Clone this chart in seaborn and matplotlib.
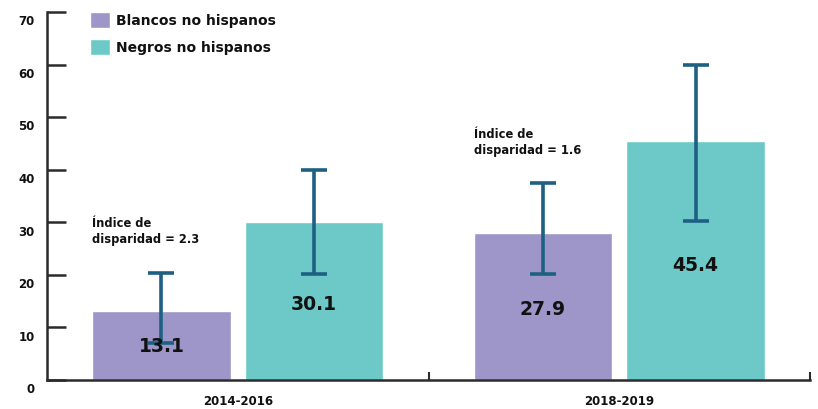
import numpy as np
import pandas as pd
import seaborn as sns
import matplotlib.pyplot as plt
from matplotlib.transforms import ScaledTranslation

# Data
periods = ["2014-2016", "2018-2019"]
groups = ["Blancos no hispanos", "Negros no hispanos"]
blancos = [13.1, 27.9]
negros = [30.1, 45.4]
blancos_low = [7.0, 20.2]
blancos_high = [20.4, 37.4]
negros_low = [20.2, 30.3]
negros_high = [39.9, 59.9]
disparity = ["2.3", "1.6"]

colors = ["#9e95c8", "#6dc9c7"]
err_color = "#1d6082"
axis_color = "#2b2b2b"


def main():
    sns.set_style("white")
    plt.rcParams["font.family"] = ["DejaVu Sans"]
    plt.rcParams["font.weight"] = "bold"

    df = pd.DataFrame({
        "periodo": periods * 2,
        "grupo": [groups[0]] * 2 + [groups[1]] * 2,
        "valor": blancos + negros,
        "low": blancos_low + negros_low,
        "high": blancos_high + negros_high,
    })

    fig = plt.figure(figsize=(8.18, 4.09), dpi=100)
    ax = fig.add_axes([47 / 818, 1 - 380 / 409, (810 - 47) / 818, (380 - 12) / 409])

    sns.barplot(data=df, x="periodo", y="valor", hue="grupo", palette=colors,
                width=0.8, gap=0.09, errorbar=None, saturation=1, ax=ax)

    # error bars and labels on each bar, positions taken from the patches
    bars = [p for p in ax.patches if p.get_height() > 0]
    for bar, (_, row) in zip(bars, df.iterrows()):
        xc = bar.get_x() + bar.get_width() / 2
        v = row["valor"]
        ax.errorbar(xc, v, yerr=[[v - row["low"]], [row["high"] - v]],
                    fmt="none", ecolor=err_color, elinewidth=2.6,
                    capsize=9.5, capthick=2.6, zorder=3)
        ax.text(xc, v * 0.48, f"{v:.1f}", ha="center", va="center",
                fontsize=13.5, fontweight="bold", color="#111111", zorder=4)

    # disparity notes above the white bars
    for i, d in enumerate(disparity):
        b = bars[i]
        ax.text(b.get_x(), df["high"][i] + 5.0, f"Índice de\ndisparidad = {d}",
                ha="left", va="bottom", fontsize=8.3, fontweight="bold",
                color="#111111", linespacing=1.35)

    ax.set_xlim(-0.5, 1.5)
    ax.set_ylim(0, 70)
    ax.set_yticks(range(0, 71, 10))
    ax.set_xlabel("")
    ax.set_ylabel("")

    for s in ["top", "right"]:
        ax.spines[s].set_visible(False)
    for s in ["left", "bottom"]:
        ax.spines[s].set_color(axis_color)
        ax.spines[s].set_linewidth(1.8)

    ax.tick_params(axis="y", direction="in", length=14, width=1.8,
                   color=axis_color, labelsize=8.5, pad=9, left=True,
                   labelcolor="#111111")
    ax.tick_params(axis="x", which="major", length=0, pad=11, labelsize=8.5,
                   labelcolor="#111111")
    ax.set_xticks([0.5, 1.5], minor=True)
    ax.tick_params(axis="x", which="minor", direction="in", length=6,
                   width=1.5, color=axis_color, bottom=True)
    for lab in ax.get_yticklabels() + ax.get_xticklabels():
        lab.set_fontweight("bold")
    for lab in ax.get_yticklabels():
        lab.set_transform(lab.get_transform() +
                          ScaledTranslation(0, -6 / 72, fig.dpi_scale_trans))

    leg = ax.legend(loc="upper left", bbox_to_anchor=(0.04, 1.034),
                    frameon=False, handlelength=1.45, handleheight=1.45,
                    handletextpad=0.45, labelspacing=0.75,
                    prop={"weight": "bold", "size": 10})
    for t in leg.get_texts():
        t.set_color("#111111")

    fig.savefig("out.png", dpi=100)


main()
